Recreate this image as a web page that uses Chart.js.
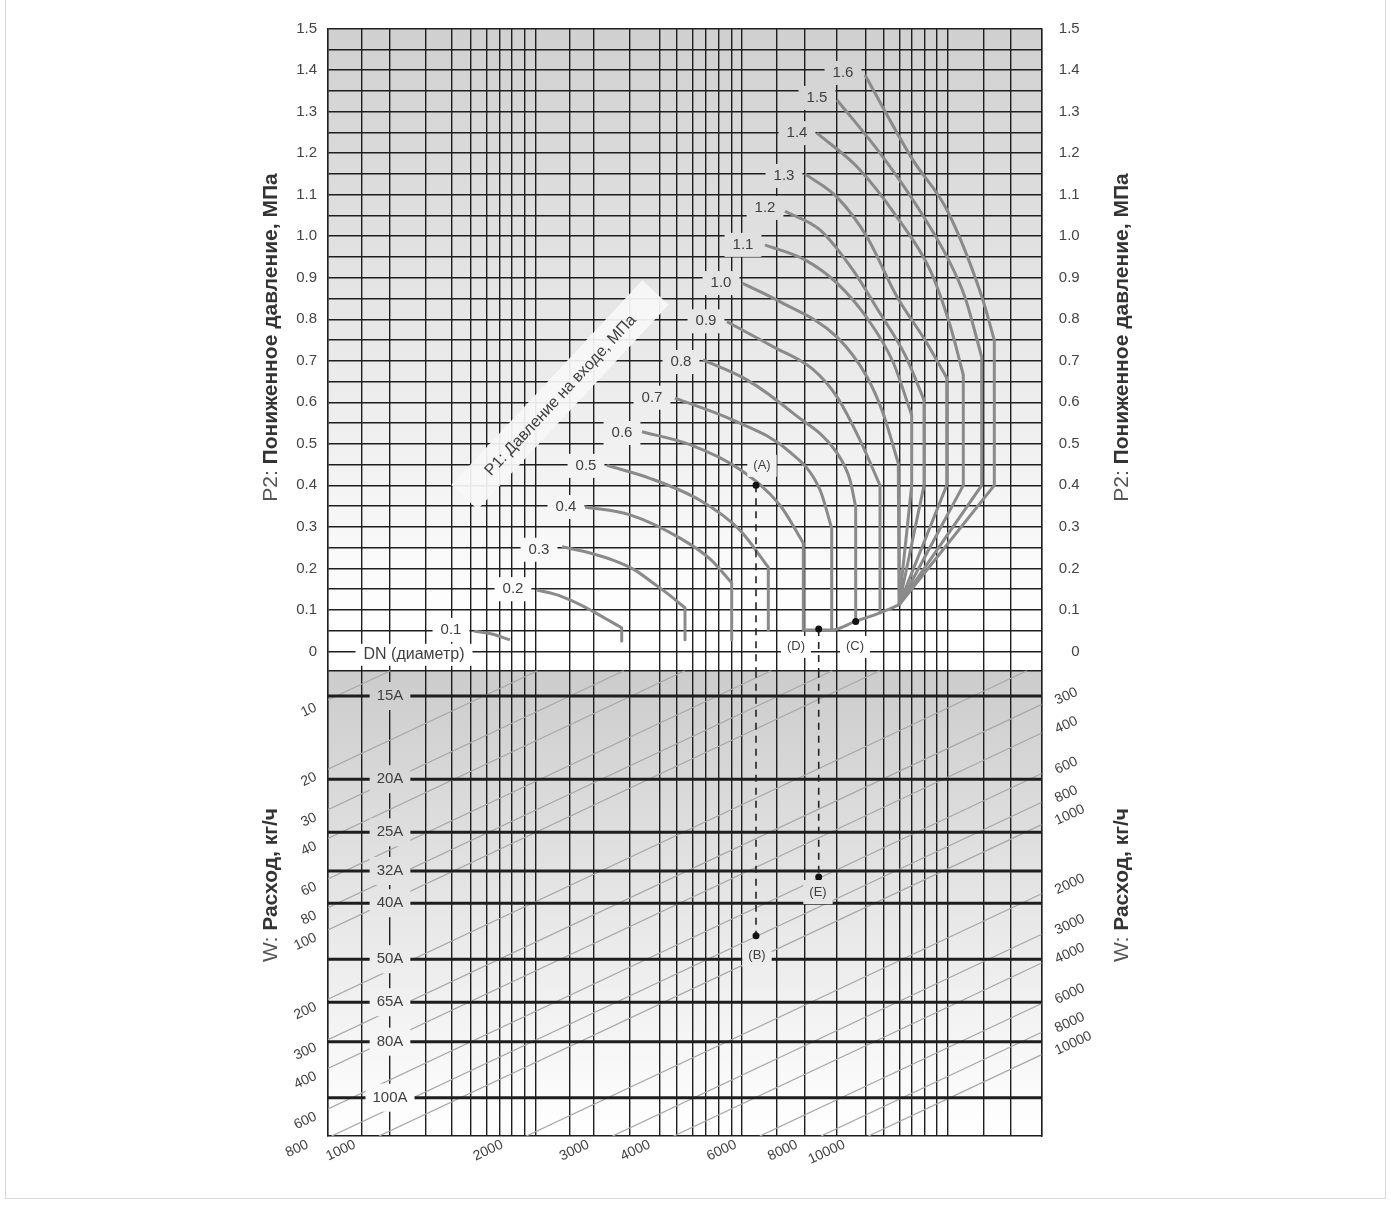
<!DOCTYPE html>
<html lang="ru">
<head>
<meta charset="utf-8">
<title>Номограмма подбора редукционного клапана</title>
<script src="https://cdn.jsdelivr.net/npm/chart.js@4.4.1/dist/chart.umd.min.js"></script>
<style>
  html, body { margin: 0; padding: 0; background: #fff; }
  #wrap { width: 1391px; height: 1206px; }
</style>
</head>
<body>
<div id="wrap"><canvas id="nomogram" width="1391" height="1206"></canvas></div>
<script>
// ---- axes ----
// x runs in grid units across the plot (0 = left edge, 713.7 = right edge)
const X_MAX = 713.7;
const xGridLines = [0, 33.7, 62, 98, 124, 142.7, 158.7, 171.3, 183.7, 196.3, 207.7,
  242, 266, 301.3, 332, 348.7, 364.7, 378, 390.3, 403.7, 413.7,
  448.7, 476.3, 508.7, 537.7, 555.3, 571.3, 583.7, 596.3, 608.7, 619.7,
  655.3, 683, 713.7];

// P2 (upper part), MPa
const P2_TOP = 1.5;
const P2_BOTTOM = -1.1666;   // value of the P2 axis at the bottom edge of the plot
const P2_BAND = -0.0462;     // border between the pressure part and the flow part
const p2TickValues = [0, 0.1, 0.2, 0.3, 0.4, 0.5, 0.6, 0.7, 0.8, 0.9, 1.0, 1.1, 1.2, 1.3, 1.4, 1.5];
const p2TickLabels = ['0', '0.1', '0.2', '0.3', '0.4', '0.5', '0.6', '0.7', '0.8', '0.9', '1.0', '1.1', '1.2', '1.3', '1.4', '1.5'];

// W (lower part), kg/h, log scale read on the left edge; right edge reads W_SHIFT times more
const W_TOP = 0.01203;
const W_BAND = 7.458;
const W_BOTTOM = 786.5;
const W_SHIFT = 28.74;
const flowLines = [10, 20, 30, 40, 60, 80, 100, 200, 300, 400, 600, 800,
  1000, 2000, 3000, 4000, 6000, 8000, 10000];
const leftFlowLabels = [10, 20, 30, 40, 60, 80, 100, 200, 300, 400, 600];
const rightFlowLabels = [300, 400, 600, 800, 1000, 2000, 3000, 4000, 6000, 8000, 10000];
const bottomFlowLabels = [800, 1000, 2000, 3000, 4000, 6000, 8000, 10000];

// DN rows (level read on the left flow scale)
const dnLabels = ['15A', '20A', '25A', '32A', '40A', '50A', '65A', '80A', '100A'];
const dnFlowLevels = [9.61, 22.1, 37.6, 55.4, 76.5, 134, 206, 306, 536];
const DN_COLUMN = 62;

// ---- P1 curves: [x, P2] ----
const p1Levels = ['0.1', '0.2', '0.3', '0.4', '0.5', '0.6', '0.7', '0.8',
  '0.9', '1.0', '1.1', '1.2', '1.3', '1.4', '1.5', '1.6'];
const p1LabelPos = [[123, 0.052], [185, 0.150], [211, 0.245], [238, 0.348], [258, 0.447],
  [294, 0.526], [324, 0.611], [353, 0.697], [378, 0.795], [393, 0.887], [415, 0.979],
  [437, 1.068], [456, 1.145], [469, 1.248], [489, 1.333], [515, 1.393]];

const CONV = [571, 0.112];

const curve01 = [[146, 0.049], [164, 0.042], [182, 0.028]];
const curve02 = [[209, 0.148], [232, 0.134], [257, 0.107], [277, 0.080], [293.7, 0.057]];
const curve03 = [[234, 0.252], [262, 0.237], [285, 0.220], [307, 0.196], [325, 0.165], [344, 0.131], [357, 0.105]];
const curve04 = [[257, 0.348], [302, 0.329], [352, 0.273], [382, 0.223], [403.7, 0.165]];
const curve05 = [[279, 0.448], [322, 0.417], [372, 0.364], [412, 0.292], [440.3, 0.203]];
const curve06 = [[314, 0.529], [362, 0.498], [412, 0.438], [452, 0.352], [475.3, 0.261]];
const curve07 = [[347, 0.610], [405, 0.557], [462, 0.480], [492, 0.389], [503.7, 0.297]];
const curve08 = [[375, 0.702], [419, 0.654], [465, 0.574], [509, 0.478], [522, 0.413], [527.7, 0.348]];
const curve09 = [[399, 0.794], [445, 0.734], [485, 0.679], [509, 0.613], [532, 0.509], [552, 0.4]];
const curve10 = [[414, 0.887], [449, 0.846], [509, 0.757], [539, 0.661], [555, 0.574], [570.3, 0.453]];
const curve11 = [[437, 0.979], [477, 0.943], [509, 0.887], [539, 0.803], [565, 0.697], [583.7, 0.569]];
const curve12 = [[457, 1.060], [492, 1.015], [525, 0.918], [550, 0.822], [577, 0.714], [596, 0.606]];
const curve13 = [[477, 1.150], [509, 1.094], [539, 0.998], [569, 0.854], [597, 0.750], [618.7, 0.659]];
const curve14 = [[489, 1.248], [529, 1.167], [569, 1.046], [602, 0.919], [622, 0.786], [635.3, 0.666]];
const curve15 = [[509, 1.328], [552, 1.200], [585, 1.087], [619, 0.950], [637, 0.853], [653.7, 0.709]];
const curve16 = [[537, 1.388], [585, 1.183], [619, 1.063], [654, 0.853], [666.3, 0.750]];

// straight parts below the bends
const tail02 = [[293.7, 0.057], [293.7, 0.025]];
const tail03 = [[357, 0.105], [357, 0.028]];
const tail04 = [[403.7, 0.165], [403.7, 0.028]];
const tail05 = [[440.3, 0.203], [440.3, 0.052]];
const tail06 = [[475.3, 0.261], [475.3, 0.052]];
const tail07 = [[503.7, 0.297], [503.7, 0.052]];
const tail08 = [[527.7, 0.348], [527.7, 0.073]];
const tail09 = [[552, 0.4], [552, 0.093]];
const tail10 = [[570.3, 0.453], CONV];
const tail11 = [[583.7, 0.569], [583.7, 0.4], CONV];
const tail12 = [[596, 0.606], [596, 0.4], CONV];
const tail13 = [[618.7, 0.659], [618.7, 0.4], CONV];
const tail14 = [[635.3, 0.666], [635.3, 0.4], CONV];
const tail15 = [[653.7, 0.709], [653.7, 0.4], CONV];
const tail16 = [[666.3, 0.750], [666.3, 0.4], CONV];

const envelope = [[475.3, 0.052], [503.7, 0.052], [527.7, 0.073], [552, 0.093], CONV];

// ---- example points ----
const markerA = [428, 0.4];
const markerD = [490.7, 0.054];
const markerC = [527.7, 0.072];
const markerB = [428, 106];    // on the flow scale
const markerE = [490.7, 58.8]; // on the flow scale
const pointLabelsP2 = [['(A)', 434, 0.447], ['(D)', 468, 0.011], ['(C)', 527, 0.011]];
const pointLabelsW = [['(B)', 429, 128.5], ['(E)', 490, 68.4]];

const FONT = "'Liberation Sans', Arial, sans-serif";
const INK = '#3f3f3f';
const GRID = '#1e1e1e';
const CURVE = '#8a8a8a';
const FLOW = '#a8a8a8';

const pts = arr => arr.map(([x, y]) => ({x, y}));

function lineSet(data, yAxisID, style) {
  return Object.assign({
    data, yAxisID, xAxisID: 'x', showLine: true, pointRadius: 0,
    fill: false, borderJoinStyle: 'round', borderCapStyle: 'butt'
  }, style);
}

// flow line for w, clipped to the lower part (straight on the log scale)
function flowLinePoints(w) {
  const k = Math.log10(W_SHIFT) / X_MAX;
  let x0 = 0, y0 = w, x1 = X_MAX, y1 = w / W_SHIFT;
  if (y0 > W_BOTTOM) { x0 = Math.log10(w / W_BOTTOM) / k; y0 = W_BOTTOM; }
  if (y1 < W_BAND) { x1 = Math.log10(w / W_BAND) / k; y1 = W_BAND; }
  return [{x: x0, y: y0}, {x: x1, y: y1}];
}

const curves = [curve01, curve02, curve03, curve04, curve05, curve06, curve07, curve08,
  curve09, curve10, curve11, curve12, curve13, curve14, curve15, curve16];
const tails = [null, tail02, tail03, tail04, tail05, tail06, tail07, tail08,
  tail09, tail10, tail11, tail12, tail13, tail14, tail15, tail16];

const datasets = [];

// markers
datasets.push(lineSet(pts([markerA, markerD, markerC]), 'y',
  {showLine: false, pointRadius: 3.5, pointBackgroundColor: '#111', pointBorderWidth: 0, order: 1}));
datasets.push(lineSet(pts([markerB, markerE]), 'yW',
  {showLine: false, pointRadius: 3.5, pointBackgroundColor: '#111', pointBorderWidth: 0, order: 1}));

// dashed guides A-B and D-E
const dashed = {borderColor: '#222', borderWidth: 1.6, borderDash: [7, 6], order: 2};
datasets.push(lineSet(pts([markerA, [markerA[0], P2_BAND]]), 'y', dashed));
datasets.push(lineSet(pts([[markerB[0], W_BAND], markerB]), 'yW', dashed));
datasets.push(lineSet(pts([markerD, [markerD[0], P2_BAND]]), 'y', dashed));
datasets.push(lineSet(pts([[markerE[0], W_BAND], markerE]), 'yW', dashed));

// P1 curves
curves.forEach((c, i) => {
  datasets.push(lineSet(pts(c), 'y',
    {borderColor: CURVE, borderWidth: 3, cubicInterpolationMode: 'monotone', order: 3}));
  if (tails[i]) {
    datasets.push(lineSet(pts(tails[i]), 'y', {borderColor: CURVE, borderWidth: 3, tension: 0, order: 3}));
  }
});
datasets.push(lineSet(pts(envelope), 'y',
  {borderColor: CURVE, borderWidth: 3, cubicInterpolationMode: 'monotone', order: 3}));

// DN rows
dnFlowLevels.forEach(w => {
  datasets.push(lineSet([{x: 0, y: w}, {x: X_MAX, y: w}], 'yW', {borderColor: GRID, borderWidth: 3, order: 4}));
});

// constant flow lines
flowLines.forEach(w => {
  datasets.push(lineSet(flowLinePoints(w), 'yW', {borderColor: FLOW, borderWidth: 1.3, order: 5}));
});

// tick helpers
const p2GridValues = [P2_BAND];
p2TickValues.forEach((v, i) => {
  p2GridValues.push(v);
  if (i < p2TickValues.length - 1) p2GridValues.push(+(v + 0.05).toFixed(2));
});

function p2Label(v) {
  const i = p2TickValues.findIndex(t => Math.abs(t - v) < 1e-6);
  return i < 0 ? '' : p2TickLabels[i];
}

function boxedText(ctx, text, x, y, fill, font, padX, h) {
  ctx.font = font;
  const w = ctx.measureText(text).width + 2 * padX;
  ctx.fillStyle = fill;
  ctx.fillRect(x - w / 2, y - h / 2, w, h);
  ctx.fillStyle = INK;
  ctx.textAlign = 'center';
  ctx.textBaseline = 'middle';
  ctx.fillText(text, x, y);
}

function rotatedText(ctx, text, x, y, angleDeg, align) {
  ctx.save();
  ctx.translate(x, y);
  ctx.rotate(angleDeg * Math.PI / 180);
  ctx.textAlign = align;
  ctx.textBaseline = 'middle';
  ctx.fillText(text, 0, 0);
  ctx.restore();
}

// vertical title: a light prefix ("P2:") followed by a bold name
function axisTitle(ctx, prefix, name, cx, cy) {
  const light = `21px ${FONT}`;
  const bold = `bold 21px ${FONT}`;
  ctx.save();
  ctx.translate(cx, cy);
  ctx.rotate(-Math.PI / 2);
  ctx.textBaseline = 'middle';
  ctx.textAlign = 'left';
  ctx.font = light;
  const w1 = ctx.measureText(prefix).width;
  ctx.font = bold;
  const w2 = ctx.measureText(name).width;
  const start = -(w1 + w2) / 2;
  ctx.font = light;
  ctx.fillStyle = '#555';
  ctx.fillText(prefix, start, 0);
  ctx.font = bold;
  ctx.fillStyle = '#333';
  ctx.fillText(name, start + w1, 0);
  ctx.restore();
}

const nomogramDecor = {
  id: 'nomogramDecor',
  beforeDraw(chart) {
    const {ctx, chartArea: a, scales} = chart;
    const yBand = scales.y.getPixelForValue(P2_BAND);
    const topFill = ctx.createLinearGradient(0, a.top, 0, scales.y.getPixelForValue(0.05));
    topFill.addColorStop(0, '#d0d0d0');
    topFill.addColorStop(1, '#ffffff');
    const lowFill = ctx.createLinearGradient(0, yBand, 0, a.bottom);
    lowFill.addColorStop(0, '#cccccc');
    lowFill.addColorStop(0.85, '#f8f8f8');
    lowFill.addColorStop(1, '#ffffff');
    chart.$fills = {top: topFill, low: lowFill};

    ctx.save();
    ctx.fillStyle = '#fff';
    ctx.fillRect(0, 0, chart.width, chart.height);
    ctx.strokeStyle = '#d9d9d9';
    ctx.lineWidth = 1;
    ctx.strokeRect(5.5, -1, 1380, 1199.5);
    ctx.fillStyle = topFill;
    ctx.fillRect(a.left, a.top, a.width, yBand - a.top);
    ctx.fillStyle = lowFill;
    ctx.fillRect(a.left, yBand, a.width, a.bottom - yBand);
    ctx.restore();
  },
  afterDatasetsDraw(chart) {
    const {ctx, chartArea: a, scales: {x, y, yW, yWR}} = chart;
    const fills = chart.$fills;
    ctx.save();

    // P1 inlet pressure caption
    ctx.save();
    ctx.translate(x.getPixelForValue(232), y.getPixelForValue(0.618));
    ctx.rotate(-47 * Math.PI / 180);
    ctx.fillStyle = 'rgba(248,248,248,0.93)';
    ctx.fillRect(-140, -18, 280, 36);
    ctx.fillStyle = INK;
    ctx.font = `16px ${FONT}`;
    ctx.textAlign = 'center';
    ctx.textBaseline = 'middle';
    ctx.fillText('P1: Давление на входе, МПа', 0, 1);
    ctx.restore();

    // curve labels
    p1Levels.forEach((lab, i) => {
      const [u, p] = p1LabelPos[i];
      boxedText(ctx, lab, x.getPixelForValue(u), y.getPixelForValue(p), fills.top, `15px ${FONT}`, 8, 24);
    });

    boxedText(ctx, 'DN (диаметр)', x.getPixelForValue(86), y.getPixelForValue(-0.008), '#fff', `16px ${FONT}`, 8, 22);

    // DN rows
    dnLabels.forEach((lab, i) => {
      boxedText(ctx, lab, x.getPixelForValue(DN_COLUMN), yW.getPixelForValue(dnFlowLevels[i]), fills.low, `15px ${FONT}`, 7, 28);
    });

    // example points
    pointLabelsP2.forEach(([t, u, p]) => boxedText(ctx, t, x.getPixelForValue(u), y.getPixelForValue(p), fills.top, `13px ${FONT}`, 6, 22));
    pointLabelsW.forEach(([t, u, w]) => boxedText(ctx, t, x.getPixelForValue(u), yW.getPixelForValue(w), fills.low, `13px ${FONT}`, 6, 24));

    // flow scale labels
    ctx.fillStyle = INK;
    ctx.font = `14px ${FONT}`;
    leftFlowLabels.forEach(w => rotatedText(ctx, String(w), a.left - 12, yW.getPixelForValue(w) + 7, -25, 'right'));
    rightFlowLabels.forEach(w => rotatedText(ctx, String(w), a.right + 14, yWR.getPixelForValue(w) - 3, -25, 'left'));
    bottomFlowLabels.forEach(w => {
      const cross = flowLinePoints(w)[0].x;
      rotatedText(ctx, String(w), x.getPixelForValue(cross) - 24, a.bottom + 8, -25, 'right');
    });

    // axis titles
    const yP2 = y.getPixelForValue(0.756);
    const yFlow = yW.getPixelForValue(63.7);
    axisTitle(ctx, 'P2: ', 'Пониженное давление, МПа', 271, yP2);
    axisTitle(ctx, 'P2: ', 'Пониженное давление, МПа', 1122, yP2);
    axisTitle(ctx, 'W: ', 'Расход, кг/ч', 271, yFlow);
    axisTitle(ctx, 'W: ', 'Расход, кг/ч', 1122, yFlow);

    ctx.restore();
  }
};

const p2Axis = (position) => ({
  type: 'linear',
  position,
  min: P2_BOTTOM,
  max: P2_TOP,
  bounds: 'data',
  afterBuildTicks: s => { s.ticks = p2GridValues.map(value => ({value})); },
  ticks: {
    autoSkip: false,
    padding: 11,
    color: '#444',
    font: {family: FONT, size: 15},
    crossAlign: position === 'right' ? 'far' : 'near',
    callback: v => p2Label(v)
  },
  grid: position === 'left'
    ? {color: GRID, lineWidth: 1.4, drawTicks: false}
    : {display: false, drawTicks: false},
  border: {display: true, color: GRID, width: 1.4},
  afterFit: s => { s.width = position === 'left' ? 328 : 38; }
});

new Chart(document.getElementById('nomogram'), {
  type: 'scatter',
  data: {datasets},
  options: {
    responsive: false,
    animation: false,
    events: [],
    layout: {padding: {left: 0, right: 311.3, top: 28.5, bottom: 70}},
    plugins: {legend: {display: false}, tooltip: {enabled: false}, title: {display: false}},
    scales: {
      x: {
        type: 'linear', min: 0, max: X_MAX, bounds: 'data',
        afterBuildTicks: s => { s.ticks = xGridLines.map(value => ({value})); },
        ticks: {display: false},
        grid: {color: GRID, lineWidth: 1.4, drawTicks: false},
        border: {display: true, color: GRID, width: 1.4},
        afterFit: s => { s.height = 0; }
      },
      y: p2Axis('left'),
      yR: p2Axis('right'),
      yW: {type: 'logarithmic', display: false, reverse: true, min: W_TOP, max: W_BOTTOM, bounds: 'data'},
      yWR: {type: 'logarithmic', display: false, reverse: true, min: W_TOP * W_SHIFT, max: W_BOTTOM * W_SHIFT, bounds: 'data'}
    }
  },
  plugins: [nomogramDecor]
});
</script>
</body>
</html>
